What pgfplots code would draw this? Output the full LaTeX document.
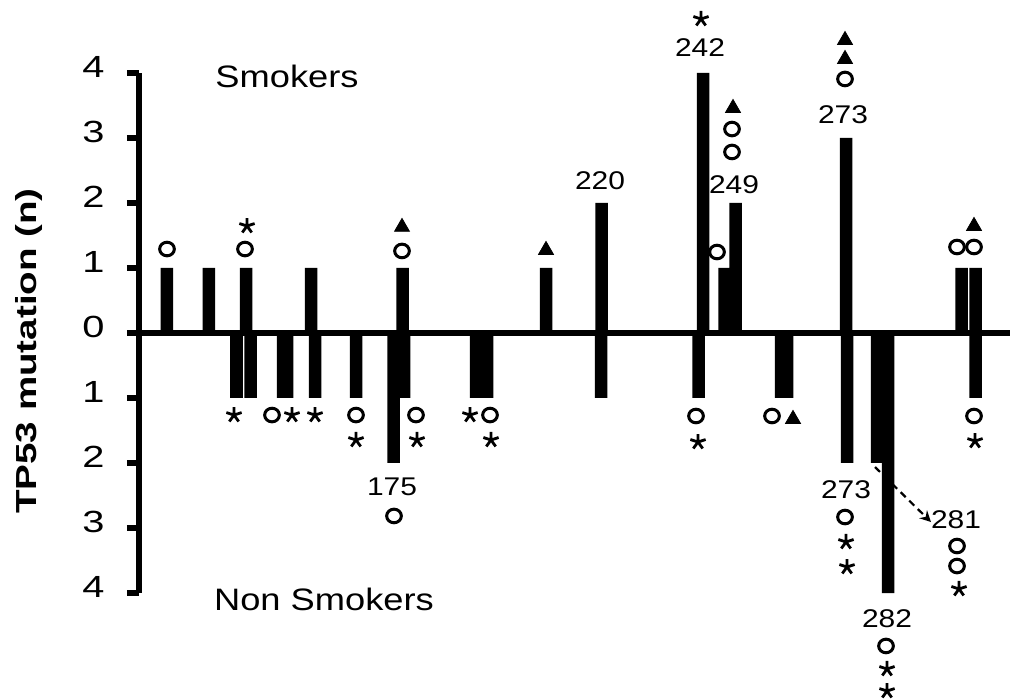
\documentclass[border=0pt]{standalone}
\usepackage{fontspec}
\usepackage{pgfplots}
\pgfplotsset{compat=1.18}
\usetikzlibrary{arrows.meta}
\setmainfont{Liberation Sans}
\newfontfamily\tickfont{Liberation Sans}[FakeStretch=1.3]
\newfontfamily\txtfont{Liberation Sans}[FakeStretch=1.17]
\newfontfamily\ylabfont{Liberation Sans}[FakeStretch=1.33]
\newcommand{\numfont}{\txtfont\fontsize{12.8pt}{12.8pt}\selectfont}
\begin{document}
\begin{tikzpicture}
\begin{axis}[
  x=0.5pt, y=32.5pt,
  xmin=139, xmax=1010, ymin=-4, ymax=4,
  axis x line=middle, axis y line=left,
  axis line style={-, line width=2.8pt, line cap=butt},
  xtick=\empty,
  ytick={-4,-3,-2,-1,0,1,2,3,4},
  yticklabels={4,3,2,1,0,1,2,3,4},
  hide obscured y ticks=false,
  tick align=outside,
  major tick length=6pt,
  tick style={line width=2.6pt, black},
  /pgf/number format/assume math mode=true,
  yticklabel style={font=\tickfont\fontsize{15.3pt}{15.3pt}\selectfont, anchor=east, inner sep=0pt, xshift=-11pt, yshift=3pt},
  ylabel={TP53 mutation (n)},
  every axis y label/.style={at={(rel axis cs:-0.1263,0.4654)}, anchor=center, rotate=90, font=\ylabfont\bfseries\fontsize{14.5pt}{14.5pt}\selectfont},
  clip=false,
]
% Smokers (upper) bars
\addplot[ybar, bar width=12.5, bar shift=0pt, fill=black, draw=none] coordinates {
 (167,1) (209,1) (246,1) (311,1) (402.5,1) (546,1) (601.5,2) (703,4)
 (724.5,1) (735.5,2) (846,3) (961.5,1) (975.5,1)};
% Non smokers (lower) bars
\addplot[ybar, bar width=12.5, bar shift=0pt, fill=black, draw=none] coordinates {
 (236.5,-1) (250.5,-1) (283,-1) (287,-1) (315,-1) (356,-1) (393.5,-2) (404,-1)
 (476,-1) (487,-1) (601,-1) (698.5,-1) (781,-1) (787,-1) (847,-2) (877,-2)
 (888,-4) (975.5,-1)};
% circles
\addplot[only marks, mark=o, mark size=3.4pt, mark options={line width=1.5pt, black, xscale=1.08}] coordinates {
 (167,1.292) (245,1.292) (402,1.262) (732,3.138) (732,2.785) (717,1.246) (845,3.908) (957,1.323) (974,1.323)
 (272,-1.262) (356,-1.262) (394,-2.815) (416,-1.262) (490,-1.262) (696,-1.277) (772,-1.277)
 (845,-2.831) (957,-3.277) (957,-3.585) (886,-4.815) (974,-1.277)};
% asterisks
\addplot[only marks, mark=star, mark size=4pt, mark options={line width=1.4pt, black}] coordinates {
 (247,1.646) (701,4.831) (234,-1.262) (292,-1.262) (315,-1.262) (356,-1.646) (417,-1.646)
 (470,-1.262) (491,-1.646) (698,-1.677) (846,-3.215) (847,-3.6) (959,-3.938) (887,-5.169)
 (887,-5.508) (975,-1.662)};
% triangles
\addplot[only marks, mark=triangle*, mark size=4.3pt, mark options={draw=none, fill=black}] coordinates {
 (402,1.630) (546,1.276) (733,3.460) (845,4.506) (845,4.214) (974,1.645) (793,-1.324)};
% codon labels
\node[font=\numfont, inner sep=0pt] at (axis cs:600,2.338) {220};
\node[font=\numfont, inner sep=0pt] at (axis cs:700,4.385) {242};
\node[font=\numfont, inner sep=0pt] at (axis cs:734,2.277) {249};
\node[font=\numfont, inner sep=0pt] at (axis cs:843,3.354) {273};
\node[font=\numfont, inner sep=0pt] at (axis cs:392,-2.369) {175};
\node[font=\numfont, inner sep=0pt] at (axis cs:846,-2.415) {273};
\node[font=\numfont, inner sep=0pt] at (axis cs:956,-2.877) {281};
\node[font=\numfont, inner sep=0pt] at (axis cs:887,-4.4) {282};
\node[font=\txtfont\fontsize{15.5pt}{15.5pt}\selectfont, inner sep=0pt] at (axis cs:287,3.954) {Smokers};
\node[font=\txtfont\fontsize{15.5pt}{15.5pt}\selectfont, inner sep=0pt] at (axis cs:324,-4.092) {Non Smokers};
\draw[line width=1.1pt, dash pattern=on 3.5pt off 2.5pt, -{Stealth[length=5.5pt,width=5.5pt]}] (axis cs:875,-2.062) -- (axis cs:931,-2.908);
\coordinate (bbll) at (axis cs:0,-5.631);
\coordinate (bbur) at (axis cs:1010,5.123);
\end{axis}
\pgfresetboundingbox
\path[use as bounding box] (bbll) rectangle (bbur);
\end{tikzpicture}
\end{document}
